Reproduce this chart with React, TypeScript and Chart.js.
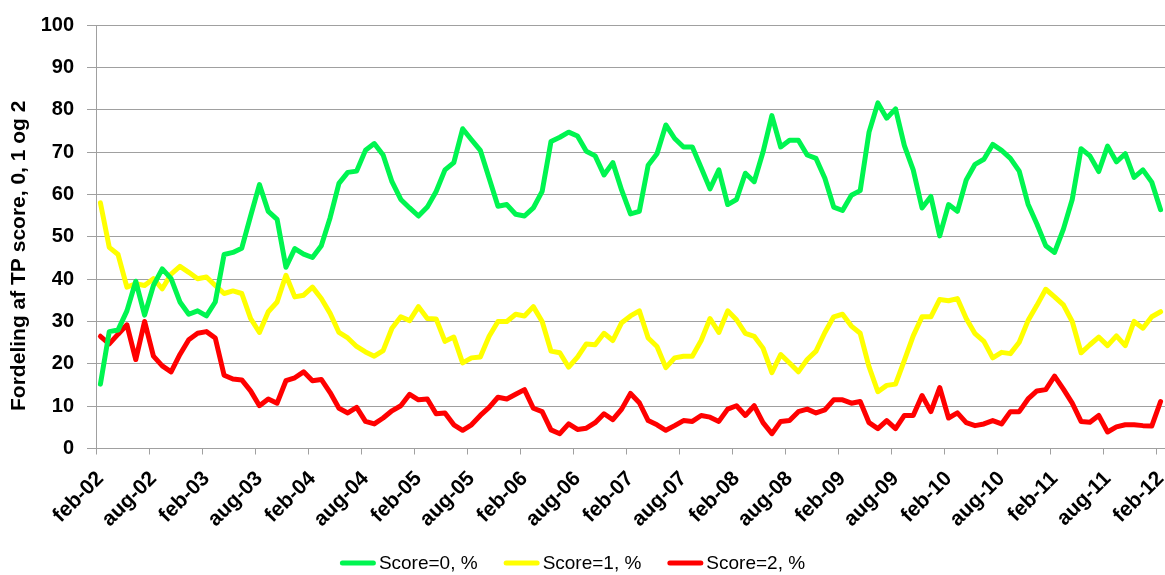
import React, { useEffect, useRef } from "react";
import { Chart, registerables } from "chart.js";

Chart.register(...registerables);

const MONTHS = ["jan", "feb", "mar", "apr", "maj", "jun", "jul", "aug", "sep", "okt", "nov", "dec"];
const START_YEAR = 2002;
const START_MONTH = 1; // feb
const N = 121;
const categories: string[] = Array.from({ length: N }, (_, i) => {
  const m = (START_MONTH + i) % 12;
  const y = START_YEAR + Math.floor((START_MONTH + i) / 12);
  return `${MONTHS[m]}-${String(y % 100).padStart(2, "0")}`;
});

const score0 = [
  15.2, 27.6, 28, 32.5, 39.5, 31.5, 38.5, 42.4, 40.1, 34.6, 31.7, 32.5, 31.3, 34.6, 45.8, 46.3,
  47.3, 54.9, 62.3, 56, 54.1, 42.8, 47.2, 45.9, 45.1, 47.9, 54.5, 62.6, 65.2, 65.5, 70.4,
  72, 69.3, 63, 58.8, 56.8, 54.9, 57, 60.7, 65.8, 67.5, 75.5, 72.9, 70.4, 63.8, 57.2,
  57.6, 55.3, 54.9, 56.8, 60.7, 72.5, 73.5, 74.7, 73.8, 70.2, 69.1, 64.6, 67.5, 61, 55.4,
  56, 66.9, 69.6, 76.4, 73.2, 71.2, 71.2, 66.3, 61.3, 65.8, 57.6, 58.8, 65, 63, 70, 78.6,
  71.2, 72.8, 72.8, 69.3, 68.5, 63.8, 57, 56.2, 59.8, 60.9, 74.7, 81.6, 78, 80.2, 71.5,
  65.8, 56.8, 59.5, 50.2, 57.6, 56, 63.4, 67.1, 68.3, 71.8, 70.4, 68.5, 65.5, 57.7, 53,
  47.9, 46.3, 51.8, 58.8, 70.8, 69.1, 65.4, 71.4, 67.7, 69.6, 64, 65.8, 62.9, 56.4,
];

const score1 = [
  58, 47.5, 45.8, 38.1, 38.9, 38.5, 40.1, 37.7, 41.2, 43, 41.6, 40.1, 40.5, 38.5, 36.6, 37.2,
  36.6, 30.7, 27.4, 32.3, 34.6, 40.9, 35.8, 36.2, 38.1, 35.4, 31.9, 27.4, 26.1, 24.1, 22.8,
  21.8, 23.1, 28.4, 31.1, 30.2, 33.5, 30.7, 30.6, 25.3, 26.3, 20.2, 21.4, 21.6, 26.5, 30,
  30, 31.7, 31.3, 33.5, 30, 23, 22.6, 19.2, 21.6, 24.7, 24.5, 27.2, 25.5, 29.7, 31.3,
  32.5, 26.1, 24.1, 19.1, 21.4, 21.8, 21.8, 25.5, 30.7, 27.4, 32.5, 30.4, 27.2, 26.5, 23.7, 17.9,
  22.2, 20.2, 18.1, 21, 23, 27.4, 31.1, 31.7, 28.9, 27.2, 19.3, 13.4, 14.9, 15.2, 20.8,
  26.6, 31.1, 31.1, 35.2, 34.9, 35.4, 30.7, 27.1, 25.3, 21.4, 22.7, 22.4, 25.1, 30.2, 33.8,
  37.6, 35.8, 33.9, 30, 22.6, 24.5, 26.3, 24.3, 26.6, 24.3, 30, 28.4, 31.1, 32.3,
];

const score2 = [
  26.5, 24.7, 27, 29.2, 21, 30, 21.8, 19.5, 18.1, 22.2, 25.7, 27.2, 27.6, 26.1, 17.3, 16.4,
  16.2, 13.6, 10.1, 11.7, 10.7, 16, 16.7, 18.1, 16, 16.3, 13.2, 9.5, 8.4, 9.7, 6.4,
  5.8, 7.2, 8.9, 10.1, 12.8, 11.5, 11.7, 8.2, 8.4, 5.6, 4.3, 5.6, 7.8, 9.7, 12.1,
  11.7, 12.8, 13.9, 9.5, 8.7, 4.4, 3.5, 5.8, 4.5, 4.8, 6.1, 8.2, 6.8, 9.3, 13,
  10.8, 6.6, 5.6, 4.3, 5.4, 6.6, 6.4, 7.8, 7.4, 6.4, 9.3, 10.1, 7.8, 10.1, 6.1, 3.5,
  6.4, 6.6, 8.7, 9.3, 8.4, 9.1, 11.5, 11.5, 10.7, 11.1, 6.1, 4.7, 6.6, 4.7, 7.8,
  7.8, 12.5, 8.7, 14.4, 7.2, 8.4, 6.1, 5.4, 5.8, 6.6, 5.8, 8.7, 8.7, 11.7, 13.6,
  13.9, 17.1, 14, 10.7, 6.4, 6.2, 7.8, 3.9, 5.1, 5.6, 5.6, 5.4, 5.3, 11.1,
];

const seriesNames = ["Score=0, %", "Score=1, %", "Score=2, %"];
const seriesColors = ["#00F550", "#FFFF00", "#FF0000"];
const yTitle = "Fordeling af TP score, 0, 1 og 2";
const LABEL_EVERY = 6;

const FONT = "'Liberation Sans', Arial, sans-serif";
const GRID = "#a0a0a0";

// Draws the rotated axis title and the line legend in Excel's layout.
const textPlugin = {
  id: "excelText",
  afterDraw(chart: any) {
    const ctx = chart.ctx as CanvasRenderingContext2D;
    const area = chart.chartArea;
    // y axis title
    ctx.save();
    ctx.font = `bold 21px ${FONT}`;
    ctx.fillStyle = "#000";
    ctx.textAlign = "center";
    ctx.textBaseline = "middle";
    ctx.translate(19, (area.top + area.bottom) / 2 + 19);
    ctx.rotate(-Math.PI / 2);
    ctx.fillText(yTitle, 0, 0);
    ctx.restore();

    // legend
    ctx.save();
    ctx.font = `19px ${FONT}`;
    const lineW = 36;
    const gapText = 3;
    const gapItem = 26;
    const widths = seriesNames.map((t) => ctx.measureText(t).width);
    const total =
      widths.reduce((a, w) => a + lineW + gapText + w, 0) + gapItem * (seriesNames.length - 1);
    const centerX = 572.5;
    const y = chart.height - 12;
    let x = centerX - total / 2;
    seriesNames.forEach((name, k) => {
      ctx.strokeStyle = seriesColors[k];
      ctx.lineWidth = 5;
      ctx.lineCap = "round";
      ctx.beginPath();
      ctx.moveTo(x + 2.5, y);
      ctx.lineTo(x + lineW - 2.5, y);
      ctx.stroke();
      ctx.fillStyle = "#000";
      ctx.textAlign = "left";
      ctx.textBaseline = "middle";
      ctx.fillText(name, x + lineW + gapText, y + 1);
      x += lineW + gapText + widths[k] + gapItem;
    });
    ctx.restore();
  },
};

export default function App() {
  const ref = useRef<HTMLCanvasElement | null>(null);

  useEffect(() => {
    if (!ref.current) return;
    const series = [score0, score1, score2];
    const chart = new Chart(ref.current, {
      type: "line",
      data: {
        labels: categories,
        datasets: series.map((d, k) => ({
          label: seriesNames[k],
          data: d,
          borderColor: seriesColors[k],
          backgroundColor: seriesColors[k],
          borderWidth: 5,
          pointRadius: 0,
          tension: 0,
          borderJoinStyle: "round" as const,
          borderCapStyle: "round" as const,
        })),
      },
      plugins: [textPlugin],
      options: {
        animation: false,
        responsive: true,
        maintainAspectRatio: false,
        layout: { padding: { top: 20, right: 0, left: 0, bottom: 41 } },
        plugins: {
          tooltip: { enabled: false },
          legend: { display: false },
        },
        scales: {
          x: {
            type: "category",
            offset: true,
            grid: {
              offset: true,
              drawOnChartArea: false,
              drawTicks: true,
              tickLength: 6,
              color: (c: any) => (c.index % LABEL_EVERY === 0 ? GRID : "rgba(0,0,0,0)"),
            },
            border: { display: true, color: GRID },
            ticks: {
              autoSkip: false,
              maxRotation: 45,
              minRotation: 45,
              padding: 12,
              color: "#000",
              font: { family: FONT, size: 21, weight: "bold" },
              callback: (_v: any, i: number) => (i % LABEL_EVERY === 0 ? categories[i] : ""),
            },
            afterFit: (s: any) => {
              s.height = 85.5;
              s.paddingLeft = 0;
              s.paddingRight = 0;
            },
          },
          y: {
            min: 0,
            max: 100,
            ticks: {
              stepSize: 10,
              padding: 13,
              color: "#000",
              font: { family: FONT, size: 20, weight: "bold" },
            },
            grid: { color: GRID, tickLength: 9, drawTicks: true },
            border: { display: true, color: GRID },
            afterFit: (s: any) => {
              s.width = 96;
            },
          },
        },
      },
    });
    return () => chart.destroy();
  }, []);

  return (
    <div style={{ position: "absolute", left: 0, top: 0, width: 1165, height: 575, background: "#fff" }}>
      <canvas ref={ref} />
    </div>
  );
}
